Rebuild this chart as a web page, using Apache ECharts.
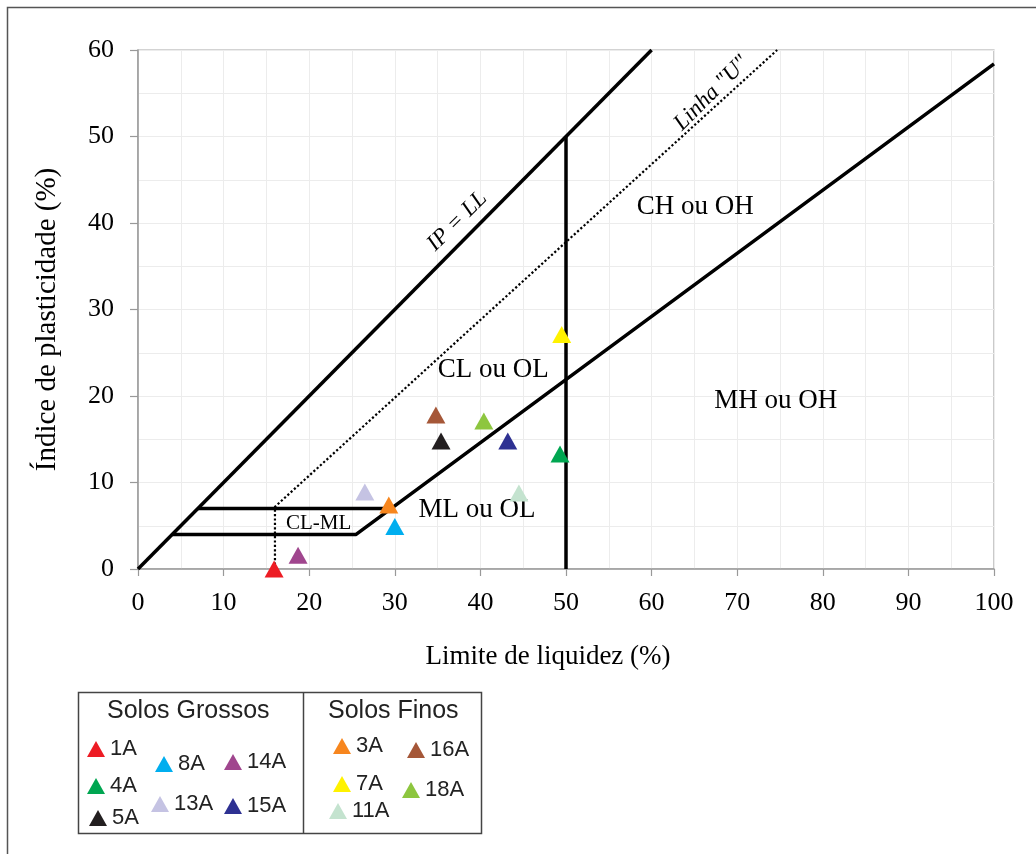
<!DOCTYPE html>
<html>
<head>
<meta charset="utf-8">
<script src="https://cdn.jsdelivr.net/npm/echarts@6/dist/echarts.min.js"></script>
<style>html,body{margin:0;padding:0;background:#fff}#c{width:1036px;height:854px}</style>
</head>
<body>
<div id="c"></div>
<script>
// ---- data ----
const sampleNames = ['1A','4A','5A','8A','13A','14A','15A','3A','16A','7A','18A','11A'];
const sampleLL    = [15.9, 49.3, 35.4, 30.0, 26.5, 18.7, 43.2, 29.3, 34.8, 49.5, 40.4, 44.5];
const sampleIP    = [0.0, 13.3, 14.8, 4.9, 8.9, 1.6, 14.8, 7.4, 17.8, 27.1, 17.1, 8.8];
const groupCoarse = ['1A','4A','5A','8A','13A','14A','15A'];
const groupFine   = ['3A','16A','7A','18A','11A'];
const groupTitles = ['Solos Grossos','Solos Finos'];

const lineIPeqLL  = [[0,0],[60,60]];
const lineA       = [[4,4],[25.48,4],[100,58.4]];
const lineCLMLtop = [[7,7],[29.59,7]];
const lineLL50    = [[50,0],[50,50]];
const lineU       = [[16,0],[16,7.2],[74.67,60]];

const regionNames = ['CH ou OH','CL ou OL','MH ou OH','ML ou OL','CL-ML'];
const regionLL    = [65.1, 41.5, 74.5, 39.6, 21.1];
const regionIP    = [41.9, 23.0, 19.4, 6.8, 5.3];

const xTicks = [0,10,20,30,40,50,60,70,80,90,100];
const yTicks = [0,10,20,30,40,50,60];

// ---- styles ----
const colors = {
  '1A':'#ed1c24','4A':'#00a651','5A':'#231f20','8A':'#00aeef','13A':'#c5c3e3',
  '14A':'#a0468e','15A':'#2e3192','3A':'#f7861e','16A':'#a55738','7A':'#fff200',
  '18A':'#8dc63f','11A':'#c4e3cf'
};
const legendPos = { // icon center x, center y
  '1A':[96,746],'4A':[96,783],'5A':[98,815],'8A':[164,761],'13A':[160,801],
  '14A':[233,759],'15A':[233,803],'3A':[342,743],'16A':[416,747],'7A':[342,781],
  '18A':[411,787],'11A':[338,808]
};
const serif = 'Liberation Serif';
const sans = 'Liberation Sans';

const series = [];
function addLine(name, data, dotted){
  series.push({
    name, type:'line', data, symbol:'none', silent:true, z:3,
    lineStyle:{color:'#000', width: dotted?2.2:3.5, type: dotted?'dotted':'solid', cap:'butt'}
  });
}
addLine('IP = LL', lineIPeqLL, false);
addLine('Linha A', lineA, false);
addLine('CL-ML topo', lineCLMLtop, false);
addLine('LL 50', lineLL50, false);
addLine('Linha U', lineU, true);

series.push({
  name:'regioes', type:'scatter', symbolSize:0, silent:true, z:4,
  itemStyle:{opacity:1},
  data: regionNames.map((n,i)=>({name:n, value:[regionLL[i], regionIP[i]]})),
  label:{show:true, position:'inside', formatter:'{b}', color:'#000', fontFamily:serif,
    fontSize:27}
});
series[series.length-1].data[4].label = {fontSize:21};

series.push({
  name:'rotulos', type:'scatter', symbolSize:0, silent:true, z:4,
  itemStyle:{opacity:1},
  data:[
    {name:'IP = LL', value:[37.3,40.2], label:{rotate:45}},
    {name:'Linha "U"', value:[67.0,55.0], label:{rotate:45}}
  ],
  label:{show:true, position:'inside', formatter:'{b}', color:'#000', fontFamily:serif,
    fontStyle:'italic', fontSize:23}
});

sampleNames.forEach((n,i)=>{
  series.push({
    name:n, type:'scatter', symbol:'triangle', symbolSize:[19,17], z:5,
    itemStyle:{color:colors[n], opacity:1},
    data:[[sampleLL[i], sampleIP[i]]]
  });
});

const legends = sampleNames.map(n=>({
  data:[n], left: legendPos[n][0]-9, top: legendPos[n][1]-8, padding:0,
  icon:'triangle', itemWidth:18, itemHeight:16, selectedMode:false,
  itemStyle:{opacity:1},
  textStyle:{fontFamily:sans, fontSize:22, color:'#222', lineHeight:16, padding:[3,0,0,0]}
}));

const option = {
  backgroundColor:'#fff',
  animation:false,
  grid:{left:138, right:42, top:50, bottom:285, show:true, borderColor:'#a8a8a8', borderWidth:1.2},
  xAxis:{
    type:'value', min:xTicks[0], max:xTicks[xTicks.length-1], interval:10,
    name:'Limite de liquidez (%)', nameLocation:'middle', nameGap:74,
    nameTextStyle:{fontFamily:serif, fontSize:27, color:'#000', padding:[0,36,0,0]},
    axisLine:{lineStyle:{color:'#999', width:1.5}},
    axisTick:{show:true, length:7, lineStyle:{color:'#999', width:1.2}},
    axisLabel:{fontFamily:serif, fontSize:26, color:'#000', margin:21},
    splitLine:{show:true, lineStyle:{color:'#ececec', width:1}},
    minorTick:{show:false, splitNumber:2},
    minorSplitLine:{show:true, lineStyle:{color:'#ececec', width:1}}
  },
  yAxis:{
    type:'value', min:yTicks[0], max:yTicks[yTicks.length-1], interval:10,
    name:'Índice de plasticidade (%)', nameLocation:'middle', nameGap:76,
    nameTextStyle:{fontFamily:serif, fontSize:29, color:'#000', padding:[0,20,0,0]},
    axisLine:{show:true, lineStyle:{color:'#999', width:1.5}},
    axisTick:{show:true, length:8, lineStyle:{color:'#999', width:1.2}},
    axisLabel:{fontFamily:serif, fontSize:26, color:'#000', margin:24},
    splitLine:{show:true, lineStyle:{color:'#ececec', width:1}},
    minorTick:{show:false, splitNumber:2},
    minorSplitLine:{show:true, lineStyle:{color:'#ececec', width:1}}
  },
  legend: legends,
  graphic:[
    {type:'rect', shape:{x:7.5, y:7.5, width:1100, height:900}, style:{fill:null, stroke:'#555', lineWidth:1.5}, silent:true, z:0},
    {type:'rect', shape:{x:78.5, y:692.5, width:403, height:141}, style:{fill:null, stroke:'#444', lineWidth:1.5}, silent:true},
    {type:'line', shape:{x1:303.5, y1:692.5, x2:303.5, y2:833.5}, style:{stroke:'#444', lineWidth:1.5}, silent:true},
    {type:'text', left:107, top:699, style:{text:groupTitles[0], font:'25px '+sans, fill:'#222'}},
    {type:'text', left:328, top:699, style:{text:groupTitles[1], font:'25px '+sans, fill:'#222'}}
  ],
  series
};
const chart = echarts.init(document.getElementById('c'), null, {renderer:'canvas'});
chart.setOption(option);
</script>
</body>
</html>
